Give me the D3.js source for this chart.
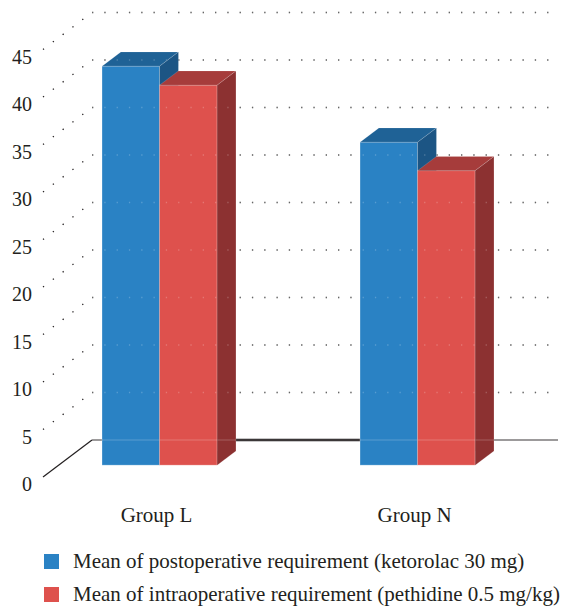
<!DOCTYPE html>
<html>
<head>
<meta charset="utf-8">
<script src="https://cdn.jsdelivr.net/npm/d3@7"></script>
<style>
  html, body { margin: 0; padding: 0; background: #fff; }
  svg { display: block; }
</style>
</head>
<body>
<svg id="chart" width="572" height="609"></svg>
<script>
// ---- data ----
const groups = ["Group L", "Group N"];
const seriesNames = [
  "Mean of postoperative requirement (ketorolac 30 mg)",
  "Mean of intraoperative requirement (pethidine 0.5 mg/kg)"
];
const postoperative = [42, 34];
const intraoperative = [40, 31];
const yTickValues = [0, 5, 10, 15, 20, 25, 30, 35, 40, 45];

// ---- styles ----
const faceColors = [
  { front: "#2a82c4", top: "#1f6296", side: "#1c5584" },
  { front: "#de514d", top: "#a63c3b", side: "#8c3131" }
];
const FONT = '"Liberation Serif"';
const TEXT_COLOR = "#231f20";

const svg = d3.select("#chart");

// oblique projection geometry
const floorDX = 49, floorDY = 37;
const barFrontFrac = 0.32;
const barDepthFrac = 0.385;
const bdx = floorDX * barDepthFrac, bdy = floorDY * barDepthFrac;
const frontShiftY = floorDY * barFrontFrac;

const y = d3.scaleLinear().domain([0, 45]).range([477, 49.5]);
const axisX = 43;
const backX = axisX + floorDX;
const rightX = 558;

const x = d3.scaleBand().domain(groups).range([24.6, 552.5])
  .paddingInner(0.554).paddingOuter(0.3);
const xs = d3.scaleBand().domain(d3.range(seriesNames.length)).range([0, x.bandwidth()]);

const seriesValues = [postoperative, intraoperative];

// ---- back gridlines & diagonals ----
const grid = svg.append("g");
yTickValues.forEach(v => {
  const yf = y(v), yb = y(v) - floorDY;
  const solid = v === 0;
  grid.append("line")
    .attr("x1", axisX).attr("y1", yf).attr("x2", backX).attr("y2", yb)
    .attr("stroke", "#231f20")
    .attr("stroke-width", solid ? 1.2 : 1.3)
    .attr("stroke-dasharray", solid ? null : "1.3,11");
  grid.append("line")
    .attr("x1", backX).attr("y1", yb).attr("x2", rightX).attr("y2", yb)
    .attr("stroke", solid ? "#231f20" : "#3a3a3a")
    .attr("stroke-width", solid ? 1.2 : 1.3)
    .attr("stroke-dasharray", solid ? null : "1.3,11");
});

// thicker floor segment between the groups
{
  const yb = y(0) - floorDY;
  const xStart = x(groups[0]) + x.bandwidth() + bdx;
  const xEnd = x(groups[1]);
  svg.append("line")
    .attr("x1", xStart).attr("y1", yb).attr("x2", xEnd).attr("y2", yb)
    .attr("stroke", "#231f20").attr("stroke-width", 2.4);
}

// ---- y labels ----
svg.append("g").selectAll("text").data(yTickValues).join("text")
  .attr("x", 32).attr("y", d => y(d) + 7).attr("dy", "0.35em")
  .attr("text-anchor", "end")
  .attr("fill", TEXT_COLOR)
  .style("font-family", FONT)
  .style("font-size", "20px")
  .text(d => d);

// ---- bars ----
const barsG = svg.append("g");
groups.forEach((g, gi) => {
  seriesNames.forEach((s, si) => {
    const v = seriesValues[si][gi];
    const xl = x(g) + xs(si);
    const xr = xl + xs.bandwidth();
    const yt = y(v) - frontShiftY;
    const y0 = y(0) - frontShiftY;
    const c = faceColors[si];
    barsG.append("rect")
      .attr("x", xl).attr("y", yt).attr("width", xr - xl).attr("height", y0 - yt)
      .attr("fill", c.front)
      .attr("stroke", "rgba(255,255,255,0.35)").attr("stroke-width", 0.8);
    barsG.append("polygon")
      .attr("points", [[xl, yt], [xr, yt], [xr + bdx, yt - bdy], [xl + bdx, yt - bdy]].join(" "))
      .attr("fill", c.top)
      .attr("stroke", "rgba(255,255,255,0.25)").attr("stroke-width", 0.6);
    barsG.append("polygon")
      .attr("points", [[xr, yt], [xr + bdx, yt - bdy], [xr + bdx, y0 - bdy], [xr, y0]].join(" "))
      .attr("fill", c.side)
      .attr("stroke", "rgba(255,255,255,0.2)").attr("stroke-width", 0.6);
  });
});

// faint gridline dots visible through bars
const overlay = svg.append("g").attr("pointer-events", "none");
yTickValues.forEach(v => {
  const yb = y(v) - floorDY;
  overlay.append("line")
    .attr("x1", backX).attr("y1", yb).attr("x2", rightX).attr("y2", yb)
    .attr("stroke", "rgba(255,255,255,0.22)")
    .attr("stroke-width", v === 0 ? 1.2 : 1.3)
    .attr("stroke-dasharray", v === 0 ? null : "1.3,11");
});

// ---- category labels ----
svg.append("g").selectAll("text").data(groups).join("text")
  .attr("x", d => x(d) + x.bandwidth() / 2 - 3)
  .attr("y", 522)
  .attr("text-anchor", "middle")
  .attr("fill", TEXT_COLOR)
  .style("font-family", FONT)
  .style("font-size", "21px")
  .text(d => d);

// ---- legend ----
const legendTargets = [457, 497];
const legend = svg.append("g");
seriesNames.forEach((s, i) => {
  const ty = 568 + i * 33;
  legend.append("rect")
    .attr("x", 44).attr("y", ty - 14).attr("width", 15).attr("height", 15)
    .attr("fill", faceColors[i].front);
  const t = legend.append("text")
    .attr("x", 73).attr("y", ty)
    .attr("fill", TEXT_COLOR)
    .style("font-family", FONT)
    .style("font-size", "18px")
    .text(s);
  const w = t.node().getComputedTextLength();
  const fs = 18 * legendTargets[i] / w;
  t.style("font-size", Math.min(21, Math.max(15, fs)).toFixed(2) + "px");
});
</script>
</body>
</html>
